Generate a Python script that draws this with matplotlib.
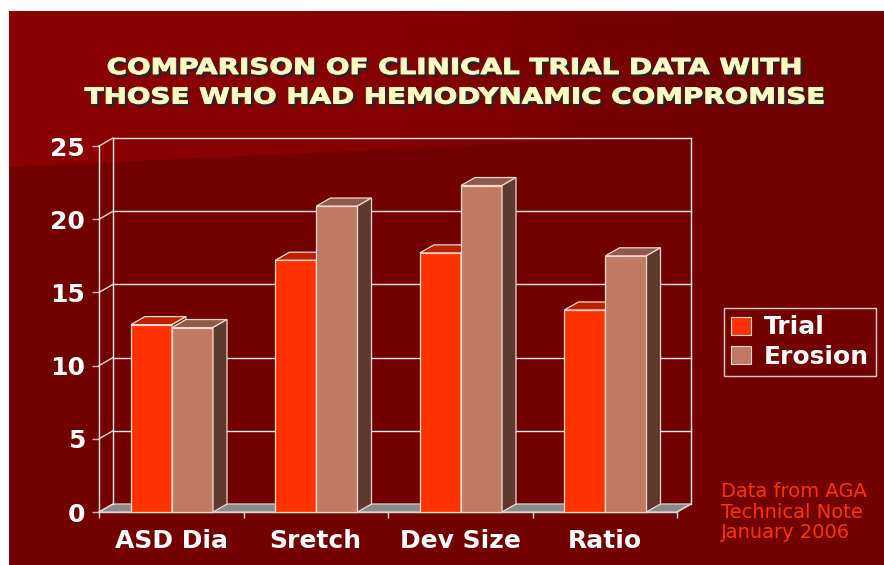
import numpy as np
import matplotlib.pyplot as plt
from matplotlib.patches import Polygon, Rectangle, Patch, PathPatch
from matplotlib.textpath import TextPath
from matplotlib.font_manager import FontProperties
from matplotlib.transforms import Affine2D

# chart data
categories = ['ASD Dia', 'Sretch', 'Dev Size', 'Ratio']
trial = [12.8, 17.2, 17.7, 13.8]
erosion = [12.6, 20.9, 22.3, 17.5]
series_names = ['Trial', 'Erosion']
yticks = [0, 5, 10, 15, 20, 25]
title_lines = ['COMPARISON OF CLINICAL TRIAL DATA WITH',
               'THOSE WHO HAD HEMODYNAMIC COMPROMISE']
note = 'Data from AGA\nTechnical Note\nJanuary 2006'

# colours: front, top, side
trial_cols = ('#FF3300', '#BB2200', '#7A1A00')
erosion_cols = ('#C07A62', '#8F5A4A', '#5E3A2E')
BG = '#720000'
EDGE = '#F2D8D0'
FONT = 'DejaVu Sans'

W, H = 884, 565
fig = plt.figure(figsize=(W / 100, H / 100), dpi=100, facecolor='white')

# background panel (pixel coords, y down)
bg = fig.add_axes([0, 0, 1, 1], zorder=0)
bg.axis('off')
bg.add_patch(Rectangle((9, 11), W - 9, H - 11, fc=BG, ec='none', zorder=1))
grad = np.linspace(0, 1, 256)
grad = np.clip((grad - 0.35) / 0.45, 0, 1)
c0 = np.array([0x8A, 0x00, 0x00]) / 255
c1 = np.array([0x72, 0x00, 0x00]) / 255
img = (c0[None, :] * (1 - grad[:, None]) + c1[None, :] * grad[:, None])[None, :, :]
im = bg.imshow(img, extent=(9, W, 172, 11), aspect='auto', zorder=2)
clip = Polygon([(9, 11), (W, 11), (W, 126), (9, 167)], closed=True,
               transform=bg.transData, fc='none', ec='none')
bg.add_patch(clip)
im.set_clip_path(clip)
bg.set_xlim(0, W)
bg.set_ylim(H, 0)

# title: wide bold lettering with a drop shadow
fp = FontProperties(family=FONT, weight='bold')
paths = [TextPath((0, 0), s, size=22, prop=fp) for s in title_lines]
ext = [p.get_extents() for p in paths]
sx = 692 / ext[0].width
for k, (p, e) in enumerate(zip(paths, ext)):
    cx, cy = 454, 66 + 29.5 * k
    tr = (Affine2D().translate(-(e.x0 + e.width / 2), -(e.y0 + e.height / 2))
          .scale(sx, -1).translate(cx, cy))
    for off, col, a, z in (((2.5, 2.5), '#262626', 0.9, 3), ((0, 0), '#FFFBC4', 1, 4)):
        bg.add_patch(PathPatch(tr.transform_path(p), fc=col, ec=col, lw=0.7, alpha=a,
                               zorder=z, transform=Affine2D().translate(*off) + bg.transData))

# main chart axes = front plane
ax = fig.add_axes([99 / W, (H - 512) / H, 578 / W, 366 / H], zorder=1)
ax.set_xlim(0, len(categories))
ax.set_ylim(0, 25)
ax.patch.set_alpha(0)

DX = 14 / (578 / len(categories))
DY = 8 / (366 / 25)
BW = 0.284

# floor
ax.add_patch(Polygon([(0, 0), (4, 0), (4 + DX, DY), (DX, DY)], closed=True,
                     fc='#8A8A8A', ec='#C8C8C8', lw=1, clip_on=False, zorder=1))
# back wall gridlines and side wall
for v in yticks:
    if v > 0:
        ax.plot([DX, 4 + DX], [v + DY, v + DY], color='#F4E8E8', lw=1,
                clip_on=False, zorder=1)
    ax.plot([0, DX], [v, v + DY], color='#E8D0D0', lw=1, clip_on=False, zorder=1)
for xb in (DX, 4 + DX):
    ax.plot([xb, xb], [DY, 25 + DY], color='#F4E8E8', lw=1, clip_on=False, zorder=1)


def draw_bar(x0, h, cols):
    front, top, side = cols
    kw = dict(ec=EDGE, lw=0.9, clip_on=False, zorder=3, joinstyle='miter')
    ax.add_patch(Rectangle((x0, 0), BW, h, fc=front, **kw))
    ax.add_patch(Polygon([(x0, h), (x0 + DX, h + DY), (x0 + BW + DX, h + DY),
                          (x0 + BW, h)], closed=True, fc=top, **kw))
    ax.add_patch(Polygon([(x0 + BW, 0), (x0 + BW + DX, DY), (x0 + BW + DX, h + DY),
                          (x0 + BW, h)], closed=True, fc=side, **kw))


for i in range(len(categories)):
    c = i + 0.505
    draw_bar(c - BW, trial[i], trial_cols)
    draw_bar(c, erosion[i], erosion_cols)

# axes styling
for s in ('top', 'right', 'bottom'):
    ax.spines[s].set_visible(False)
ax.spines['left'].set_color('#F4E8E8')
ax.spines['left'].set_linewidth(1)
ax.plot([0, 4], [0, 0], color='#D8D8D8', lw=1, clip_on=False, zorder=2)
ax.plot([4, 4 + DX], [0, DY], color='#D8D8D8', lw=1, clip_on=False, zorder=2)

ax.set_yticks(yticks)
ax.set_yticklabels([str(v) for v in yticks])
ax.tick_params(axis='y', colors='#D8B0B0', length=5, width=1, pad=5,
               labelcolor='white', labelsize=18)
for t in ax.get_yticklabels():
    t.set_fontweight('bold')
    t.set_family(FONT)

ax.set_xticks(range(len(categories) + 1))
ax.set_xticklabels([])
ax.set_xticks([i + 0.5 for i in range(len(categories))], minor=True)
ax.set_xticklabels(categories, minor=True)
ax.tick_params(axis='x', which='major', colors='#D8D8D8', length=4, width=1)
ax.tick_params(axis='x', which='minor', length=0, pad=12, labelcolor='white',
               labelsize=18)
for t in ax.get_xticklabels(minor=True):
    t.set_fontweight('bold')
    t.set_family(FONT)

# legend
handles = [Patch(fc=trial_cols[0], ec=EDGE, lw=0.8),
           Patch(fc=erosion_cols[0], ec=EDGE, lw=0.8)]
leg = fig.legend(handles, series_names, loc='center',
                 bbox_to_anchor=(800 / W, 1 - 342 / H),
                 frameon=True, fancybox=False, edgecolor='white',
                 facecolor='none', handlelength=0.8, handleheight=0.75,
                 handletextpad=0.5, borderpad=0.3, labelspacing=0.2,
                 borderaxespad=0,
                 prop=dict(family=FONT, weight='bold', size=18))
leg.get_frame().set_linewidth(1)
for t in leg.get_texts():
    t.set_color('white')

# source note
fig.text(721 / W, 1 - 482 / H, note, ha='left', va='top', color='#FF3300',
         fontsize=14, family=FONT, linespacing=1.1)

fig.savefig('out.png', dpi=100, facecolor='white')
